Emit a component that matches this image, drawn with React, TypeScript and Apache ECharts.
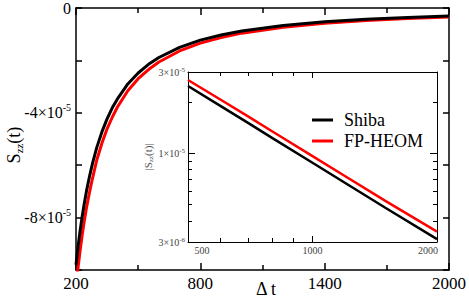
import React, { useEffect, useRef } from "react";
import * as echarts from "echarts";

// Main panel: S_zz(t) vs Δt
const tMain = [200, 210, 220, 230, 240, 250, 265, 280, 300, 325, 350, 375, 400, 450, 500, 550, 600, 700, 800, 900, 1000, 1200, 1400, 1600, 1800, 2000];
const shibaMain = [-9.8e-5, -9.1e-5, -8.49e-5, -7.95e-5, -7.46e-5, -7.01e-5, -6.43e-5, -5.92e-5, -5.33e-5, -4.73e-5, -4.23e-5, -3.81e-5, -3.47e-5, -2.9e-5, -2.48e-5, -2.15e-5, -1.89e-5, -1.5e-5, -1.225e-5, -1.03e-5, -8.77e-6, -6.67e-6, -5.29e-6, -4.33e-6, -3.63e-6, -3.1e-6];
const heomMain = [-1.06e-4, -9.9e-5, -9.25e-5, -8.66e-5, -8.13e-5, -7.65e-5, -7.04e-5, -6.49e-5, -5.81e-5, -5.16e-5, -4.61e-5, -4.17e-5, -3.78e-5, -3.16e-5, -2.7e-5, -2.35e-5, -2.06e-5, -1.64e-5, -1.34e-5, -1.13e-5, -9.6e-6, -7.31e-6, -5.81e-6, -4.76e-6, -3.99e-6, -3.41e-6];

// Inset: |S_zz(t)| on log-log axes
const tInset = [500, 600, 700, 800, 1000, 1200, 1500, 2000];
const shibaInset = [2.48e-5, 1.89e-5, 1.5e-5, 1.225e-5, 8.77e-6, 6.67e-6, 4.77e-6, 3.12e-6];
const heomInset = [2.69e-5, 2.06e-5, 1.64e-5, 1.34e-5, 9.6e-6, 7.31e-6, 5.24e-6, 3.45e-6];

const insetXLabels = [500, 1000, 2000];
const insetXMajorTicks = [500, 1000, 2000];
const insetXMinorTicks = [600, 700, 800, 900];
const insetYLabels = [3e-6, 1e-5, 3e-5];
const insetYMajorTicks = [1e-5];
const insetYMinorTicks = [4e-6, 5e-6, 6e-6, 7e-6, 8e-6, 9e-6, 2e-5];

const FONT = "Liberation Serif";

function sci(v: number): string {
  const e = Math.floor(Math.log10(v) + 1e-9);
  const m = Math.round(v / Math.pow(10, e));
  return `{a|${m}×10}{s|${e}}`;
}

export default function App() {
  const ref = useRef<HTMLDivElement>(null);
  useEffect(() => {
    if (!ref.current) return;
    const chart = echarts.init(ref.current, undefined, { renderer: "svg" });
    const black = "#000";
    const mainLine = { show: true, onZero: false, lineStyle: { color: black, width: 1.5 } };
    const insetLine = { show: true, onZero: false, lineStyle: { color: black, width: 1 } };
    const mainRich = {
      a: { fontSize: 16, fontFamily: FONT, color: black, lineHeight: 20 },
      s: { fontSize: 10, fontFamily: FONT, color: black, lineHeight: 10, verticalAlign: "top" },
    };
    const insetRich = {
      a: { fontSize: 10, fontFamily: FONT, color: "#444", lineHeight: 12 },
      s: { fontSize: 7, fontFamily: FONT, color: "#444", lineHeight: 7, verticalAlign: "top" },
    };
    const mainX = (pos: string, labels: boolean) => ({
      type: "value",
      gridIndex: 0,
      position: pos,
      min: 200,
      max: 2000,
      interval: 600,
      axisLine: mainLine,
      axisTick: { show: true, inside: true, length: 7, lineStyle: { color: black, width: 1.5 } },
      minorTick: { show: true, splitNumber: 2, length: 5, lineStyle: { color: black, width: 1.5 } },
      axisLabel: {
        show: labels,
        fontSize: 17,
        fontFamily: FONT,
        color: black,
        margin: 5,
        formatter: (v: number) => String(Math.round(v)),
      },
      splitLine: { show: false },
      minorSplitLine: { show: false },
    });
    const mainY = (pos: string, labels: boolean) => ({
      type: "value",
      gridIndex: 0,
      position: pos,
      min: -1e-4,
      max: 0,
      interval: 2e-5,
      axisLine: mainLine,
      axisTick: { show: true, inside: true, length: 6, lineStyle: { color: black, width: 1.5 } },
      axisLabel: {
        show: labels,
        margin: 5,
        fontFamily: FONT,
        formatter: (v: number) => {
          const k = Math.round(v * 1e5);
          if (k === 0) return "{a|0}";
          if (k === -4 || k === -8) return `{a|${k}×10}{s|-5}`;
          return "";
        },
        rich: mainRich,
      },
      splitLine: { show: false },
    });
    const insetX = (pos: string, ticks: number[], len: number, labels: boolean, line: boolean) => ({
      type: "log",
      logBase: 10,
      gridIndex: 1,
      position: pos,
      min: 500,
      max: 2000,
      axisLine: line ? insetLine : { show: false, onZero: false },
      axisTick: { show: true, inside: true, length: len, customValues: ticks, lineStyle: { color: black, width: 1 } },
      axisLabel: {
        show: labels,
        customValues: insetXLabels,
        margin: 3,
        fontFamily: FONT,
        formatter: (v: number) => {
          const r = Math.round(v);
          if (r === 500) return `{l|${r}}`;
          if (r === 2000) return `{r|${r}}`;
          return `{c|${r}}`;
        },
        rich: {
          l: { fontSize: 10, fontFamily: FONT, color: "#444", padding: [0, 0, 0, 28] },
          r: { fontSize: 10, fontFamily: FONT, color: "#444", padding: [0, 18, 0, 0] },
          c: { fontSize: 10, fontFamily: FONT, color: "#444" },
        },
      },
      splitLine: { show: false },
    });
    const insetY = (pos: string, ticks: number[], len: number, labels: boolean, line: boolean) => ({
      type: "log",
      logBase: 10,
      gridIndex: 1,
      position: pos,
      min: 3e-6,
      max: 3e-5,
      axisLine: line ? insetLine : { show: false, onZero: false },
      axisTick: { show: true, inside: true, length: len, customValues: ticks, lineStyle: { color: black, width: 1 } },
      axisLabel: {
        show: labels,
        customValues: insetYLabels,
        margin: 3,
        fontFamily: FONT,
        formatter: (v: number) => sci(v),
        rich: insetRich,
      },
      splitLine: { show: false },
    });

    chart.setOption({
      animation: false,
      backgroundColor: "#fff",
      textStyle: { fontFamily: FONT },
      grid: [
        { left: 76, top: 6, right: 17, bottom: 33, containLabel: false },
        { left: 188, top: 72, right: 32, bottom: 61, containLabel: false, show: true, backgroundColor: "#fff", borderWidth: 0 },
      ],
      xAxis: [
        mainX("bottom", true),
        mainX("top", false),
        insetX("bottom", insetXMajorTicks, 6, true, true),
        insetX("bottom", insetXMinorTicks, 4, false, false),
        insetX("top", insetXMajorTicks, 6, false, true),
        insetX("top", insetXMinorTicks, 4, false, false),
      ],
      yAxis: [
        mainY("left", true),
        mainY("right", false),
        insetY("left", insetYMajorTicks, 7, true, true),
        insetY("left", insetYMinorTicks, 4, false, false),
        insetY("right", insetYMajorTicks, 7, false, true),
        insetY("right", insetYMinorTicks, 4, false, false),
      ],
      legend: {
        left: 307,
        top: 106,
        orient: "vertical",
        icon: "rect",
        itemWidth: 21,
        itemHeight: 3,
        itemGap: 3,
        textStyle: { fontSize: 18, fontFamily: FONT, color: black, lineHeight: 18, padding: [0, 0, 0, 6] },
        data: ["Shiba", "FP-HEOM"],
      },
      series: [
        {
          name: "Shiba",
          type: "line",
          xAxisIndex: 0,
          yAxisIndex: 0,
          data: tMain.map((t, i) => [t, shibaMain[i]]),
          showSymbol: false,
          lineStyle: { color: black, width: 3 },
          itemStyle: { color: black },
          z: 3,
        },
        {
          name: "FP-HEOM",
          type: "line",
          xAxisIndex: 0,
          yAxisIndex: 0,
          data: tMain.map((t, i) => [t, heomMain[i]]),
          showSymbol: false,
          lineStyle: { color: "#ff0000", width: 3 },
          itemStyle: { color: "#ff0000" },
          z: 2,
        },
        {
          name: "Shiba",
          type: "line",
          xAxisIndex: 2,
          yAxisIndex: 2,
          data: tInset.map((t, i) => [t, shibaInset[i]]),
          showSymbol: false,
          lineStyle: { color: black, width: 2.5 },
          itemStyle: { color: black },
        },
        {
          name: "FP-HEOM",
          type: "line",
          xAxisIndex: 2,
          yAxisIndex: 2,
          data: tInset.map((t, i) => [t, heomInset[i]]),
          showSymbol: false,
          lineStyle: { color: "#ff0000", width: 2.5 },
          itemStyle: { color: "#ff0000" },
        },
      ],
      graphic: [
        {
          type: "text",
          x: 14,
          y: 145,
          rotation: Math.PI / 2,
          style: {
            text: "{a|S}{b|zz}{a|(t)}",
            align: "center",
            verticalAlign: "middle",
            rich: {
              a: { fontSize: 18, fontFamily: FONT, fill: black, lineHeight: 20 },
              b: { fontSize: 11, fontFamily: FONT, fill: black, lineHeight: 10, verticalAlign: "bottom" },
            },
          },
        },
        {
          type: "text",
          x: 148,
          y: 157,
          rotation: Math.PI / 2,
          style: {
            text: "{a||S}{b|zz}{a|(t)|}",
            align: "center",
            verticalAlign: "middle",
            rich: {
              a: { fontSize: 11, fontFamily: FONT, fill: "#555", lineHeight: 13 },
              b: { fontSize: 7, fontFamily: FONT, fill: "#555", lineHeight: 7, verticalAlign: "bottom" },
            },
          },
        },
        {
          type: "text",
          x: 266,
          y: 289,
          style: {
            text: "Δ t",
            align: "center",
            verticalAlign: "middle",
            fontSize: 18,
            fontFamily: FONT,
            fill: black,
          },
        },
      ],
    });
    return () => chart.dispose();
  }, []);
  return <div ref={ref} style={{ width: 469, height: 303, position: "absolute", left: 0, top: 0 }} />;
}
